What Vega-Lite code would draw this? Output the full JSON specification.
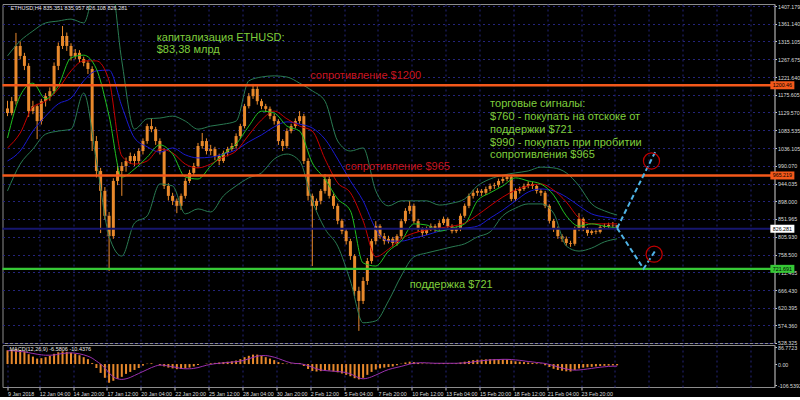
{
"$schema": "https://vega.github.io/schema/vega-lite/v6.json",
"background": "#000000",
"padding": {"left": 0.5, "top": 3, "right": 0, "bottom": 0},
"spacing": 2,
"bounds": "flush",
"config": {
  "view": {"stroke": "#8c8c8c", "strokeWidth": 1},
  "axis": {"labelFont": "Liberation Sans", "labelFontSize": 5.3, "labelColor": "#dcdcdc", "tickColor": "#c8c8c8", "domainColor": "#8c8c8c", "gridColor": "#24247a", "gridDash": [2, 3], "gridWidth": 1},
  "text": {"font": "Liberation Sans"}
},
"datasets": {
"candles": [
{"t":"2018-01-09T16:00","o":1140,"h":1160,"l":1120,"c":1128,"m":70,"s":68},
{"t":"2018-01-10T00:00","o":1128,"h":1170,"l":1122,"c":1159,"m":72,"s":68},
{"t":"2018-01-10T08:00","o":1159,"h":1337,"l":1150,"c":1303,"m":75,"s":66},
{"t":"2018-01-10T16:00","o":1303,"h":1315,"l":1268,"c":1277,"m":72,"s":64},
{"t":"2018-01-11T00:00","o":1277,"h":1285,"l":1240,"c":1251,"m":65,"s":62},
{"t":"2018-01-11T08:00","o":1251,"h":1258,"l":1118,"c":1133,"m":50,"s":58},
{"t":"2018-01-11T16:00","o":1133,"h":1160,"l":1125,"c":1146,"m":38,"s":54},
{"t":"2018-01-12T00:00","o":1146,"h":1152,"l":1060,"c":1107,"m":28,"s":50},
{"t":"2018-01-12T08:00","o":1107,"h":1165,"l":1098,"c":1159,"m":30,"s":47},
{"t":"2018-01-12T16:00","o":1159,"h":1180,"l":1145,"c":1172,"m":35,"s":45},
{"t":"2018-01-13T00:00","o":1172,"h":1195,"l":1160,"c":1185,"m":42,"s":45},
{"t":"2018-01-13T08:00","o":1185,"h":1260,"l":1178,"c":1251,"m":52,"s":46},
{"t":"2018-01-13T16:00","o":1251,"h":1312,"l":1240,"c":1303,"m":60,"s":50},
{"t":"2018-01-14T00:00","o":1303,"h":1355,"l":1295,"c":1329,"m":65,"s":54},
{"t":"2018-01-14T08:00","o":1329,"h":1338,"l":1290,"c":1303,"m":62,"s":56},
{"t":"2018-01-14T16:00","o":1303,"h":1310,"l":1265,"c":1277,"m":58,"s":57},
{"t":"2018-01-15T00:00","o":1277,"h":1295,"l":1268,"c":1285,"m":52,"s":55},
{"t":"2018-01-15T08:00","o":1285,"h":1292,"l":1260,"c":1269,"m":45,"s":52},
{"t":"2018-01-15T16:00","o":1269,"h":1275,"l":1250,"c":1259,"m":35,"s":47},
{"t":"2018-01-16T00:00","o":1259,"h":1265,"l":1230,"c":1243,"m":25,"s":40},
{"t":"2018-01-16T08:00","o":1243,"h":1250,"l":1029,"c":1055,"m":5,"s":30},
{"t":"2018-01-16T16:00","o":1055,"h":1068,"l":960,"c":977,"m":-20,"s":15},
{"t":"2018-01-17T00:00","o":977,"h":985,"l":815,"c":925,"m":-45,"s":0},
{"t":"2018-01-17T08:00","o":925,"h":935,"l":850,"c":860,"m":-70,"s":-20},
{"t":"2018-01-17T16:00","o":860,"h":870,"l":716,"c":807,"m":-95,"s":-45},
{"t":"2018-01-18T00:00","o":807,"h":958,"l":800,"c":951,"m":-85,"s":-65},
{"t":"2018-01-18T08:00","o":951,"h":990,"l":940,"c":977,"m":-75,"s":-75},
{"t":"2018-01-18T16:00","o":977,"h":1000,"l":912,"c":990,"m":-65,"s":-78},
{"t":"2018-01-19T00:00","o":990,"h":1012,"l":975,"c":1003,"m":-50,"s":-75},
{"t":"2018-01-19T08:00","o":1003,"h":1025,"l":995,"c":1016,"m":-40,"s":-68},
{"t":"2018-01-19T16:00","o":1016,"h":1022,"l":990,"c":1003,"m":-30,"s":-58},
{"t":"2018-01-20T00:00","o":1003,"h":1036,"l":995,"c":1029,"m":-20,"s":-48},
{"t":"2018-01-20T08:00","o":1029,"h":1062,"l":1020,"c":1055,"m":-8,"s":-38},
{"t":"2018-01-20T16:00","o":1055,"h":1100,"l":1048,"c":1094,"m":2,"s":-28},
{"t":"2018-01-21T00:00","o":1094,"h":1113,"l":1078,"c":1086,"m":4,"s":-18},
{"t":"2018-01-21T08:00","o":1086,"h":1092,"l":1045,"c":1055,"m":0,"s":-10},
{"t":"2018-01-21T16:00","o":1055,"h":1062,"l":1020,"c":1029,"m":-6,"s":-5},
{"t":"2018-01-22T00:00","o":1029,"h":1035,"l":930,"c":938,"m":-12,"s":-6},
{"t":"2018-01-22T08:00","o":938,"h":945,"l":900,"c":912,"m":-18,"s":-10},
{"t":"2018-01-22T16:00","o":912,"h":920,"l":888,"c":899,"m":-22,"s":-14},
{"t":"2018-01-23T00:00","o":899,"h":905,"l":867,"c":886,"m":-26,"s":-18},
{"t":"2018-01-23T08:00","o":886,"h":918,"l":875,"c":912,"m":-25,"s":-22},
{"t":"2018-01-23T16:00","o":912,"h":958,"l":905,"c":951,"m":-22,"s":-24},
{"t":"2018-01-24T00:00","o":951,"h":980,"l":945,"c":972,"m":-18,"s":-24},
{"t":"2018-01-24T08:00","o":972,"h":998,"l":965,"c":990,"m":-12,"s":-22},
{"t":"2018-01-24T16:00","o":990,"h":1050,"l":985,"c":1042,"m":-5,"s":-18},
{"t":"2018-01-25T00:00","o":1042,"h":1076,"l":1035,"c":1055,"m":0,"s":-12},
{"t":"2018-01-25T08:00","o":1055,"h":1062,"l":1020,"c":1029,"m":2,"s":-6},
{"t":"2018-01-25T16:00","o":1029,"h":1045,"l":1018,"c":1034,"m":4,"s":-2},
{"t":"2018-01-26T00:00","o":1034,"h":1040,"l":1005,"c":1016,"m":6,"s":2},
{"t":"2018-01-26T08:00","o":1016,"h":1022,"l":992,"c":1003,"m":8,"s":4},
{"t":"2018-01-26T16:00","o":1003,"h":1030,"l":998,"c":1024,"m":10,"s":6},
{"t":"2018-01-27T00:00","o":1024,"h":1040,"l":1015,"c":1034,"m":12,"s":8},
{"t":"2018-01-27T08:00","o":1034,"h":1050,"l":1028,"c":1042,"m":14,"s":10},
{"t":"2018-01-27T16:00","o":1042,"h":1075,"l":1035,"c":1068,"m":18,"s":12},
{"t":"2018-01-28T00:00","o":1068,"h":1100,"l":1060,"c":1094,"m":25,"s":15},
{"t":"2018-01-28T08:00","o":1094,"h":1152,"l":1088,"c":1146,"m":35,"s":20},
{"t":"2018-01-28T16:00","o":1146,"h":1180,"l":1140,"c":1172,"m":42,"s":27},
{"t":"2018-01-29T00:00","o":1172,"h":1204,"l":1165,"c":1191,"m":48,"s":34},
{"t":"2018-01-29T08:00","o":1191,"h":1198,"l":1150,"c":1159,"m":48,"s":40},
{"t":"2018-01-29T16:00","o":1159,"h":1165,"l":1138,"c":1146,"m":42,"s":43},
{"t":"2018-01-30T00:00","o":1146,"h":1152,"l":1130,"c":1139,"m":35,"s":43},
{"t":"2018-01-30T08:00","o":1139,"h":1145,"l":1112,"c":1120,"m":28,"s":40},
{"t":"2018-01-30T16:00","o":1120,"h":1126,"l":1098,"c":1107,"m":20,"s":35},
{"t":"2018-01-31T00:00","o":1107,"h":1112,"l":1045,"c":1055,"m":10,"s":28},
{"t":"2018-01-31T08:00","o":1055,"h":1060,"l":1029,"c":1042,"m":4,"s":20},
{"t":"2018-01-31T16:00","o":1042,"h":1088,"l":1036,"c":1081,"m":2,"s":12},
{"t":"2018-02-01T00:00","o":1081,"h":1100,"l":1075,"c":1094,"m":2,"s":6},
{"t":"2018-02-01T08:00","o":1094,"h":1114,"l":1088,"c":1107,"m":4,"s":3},
{"t":"2018-02-01T16:00","o":1107,"h":1133,"l":1100,"c":1120,"m":5,"s":2},
{"t":"2018-02-02T00:00","o":1120,"h":1126,"l":995,"c":1003,"m":-10,"s":-2},
{"t":"2018-02-02T08:00","o":1003,"h":1010,"l":900,"c":912,"m":-25,"s":-8},
{"t":"2018-02-02T16:00","o":912,"h":918,"l":729,"c":886,"m":-35,"s":-16},
{"t":"2018-02-03T00:00","o":886,"h":905,"l":875,"c":899,"m":-38,"s":-24},
{"t":"2018-02-03T08:00","o":899,"h":930,"l":890,"c":925,"m":-36,"s":-30},
{"t":"2018-02-03T16:00","o":925,"h":969,"l":918,"c":956,"m":-32,"s":-33},
{"t":"2018-02-04T00:00","o":956,"h":962,"l":905,"c":912,"m":-33,"s":-35},
{"t":"2018-02-04T08:00","o":912,"h":918,"l":878,"c":886,"m":-38,"s":-36},
{"t":"2018-02-04T16:00","o":886,"h":892,"l":838,"c":847,"m":-42,"s":-38},
{"t":"2018-02-05T00:00","o":847,"h":852,"l":812,"c":820,"m":-48,"s":-40},
{"t":"2018-02-05T08:00","o":820,"h":826,"l":785,"c":794,"m":-55,"s":-44},
{"t":"2018-02-05T16:00","o":794,"h":800,"l":745,"c":755,"m":-62,"s":-50},
{"t":"2018-02-06T00:00","o":755,"h":760,"l":650,"c":664,"m":-72,"s":-60},
{"t":"2018-02-06T08:00","o":664,"h":675,"l":560,"c":638,"m":-78,"s":-70},
{"t":"2018-02-06T16:00","o":638,"h":700,"l":630,"c":690,"m":-70,"s":-75},
{"t":"2018-02-07T00:00","o":690,"h":750,"l":680,"c":742,"m":-55,"s":-72},
{"t":"2018-02-07T08:00","o":742,"h":800,"l":735,"c":794,"m":-40,"s":-65},
{"t":"2018-02-07T16:00","o":794,"h":846,"l":785,"c":833,"m":-28,"s":-56},
{"t":"2018-02-08T00:00","o":833,"h":838,"l":800,"c":807,"m":-22,"s":-46},
{"t":"2018-02-08T08:00","o":807,"h":815,"l":785,"c":794,"m":-18,"s":-36},
{"t":"2018-02-08T16:00","o":794,"h":808,"l":788,"c":800,"m":-15,"s":-28},
{"t":"2018-02-09T00:00","o":800,"h":805,"l":780,"c":789,"m":-12,"s":-22},
{"t":"2018-02-09T08:00","o":789,"h":812,"l":782,"c":807,"m":-6,"s":-17},
{"t":"2018-02-09T16:00","o":807,"h":852,"l":800,"c":846,"m":2,"s":-12},
{"t":"2018-02-10T00:00","o":846,"h":880,"l":840,"c":873,"m":8,"s":-6},
{"t":"2018-02-10T08:00","o":873,"h":899,"l":865,"c":886,"m":12,"s":0},
{"t":"2018-02-10T16:00","o":886,"h":892,"l":840,"c":846,"m":10,"s":4},
{"t":"2018-02-11T00:00","o":846,"h":852,"l":818,"c":826,"m":6,"s":6},
{"t":"2018-02-11T08:00","o":826,"h":830,"l":805,"c":815,"m":3,"s":7},
{"t":"2018-02-11T16:00","o":815,"h":832,"l":810,"c":826,"m":2,"s":6},
{"t":"2018-02-12T00:00","o":826,"h":840,"l":820,"c":833,"m":2,"s":5},
{"t":"2018-02-12T08:00","o":833,"h":838,"l":818,"c":826,"m":3,"s":4},
{"t":"2018-02-12T16:00","o":826,"h":848,"l":820,"c":841,"m":4,"s":4},
{"t":"2018-02-13T00:00","o":841,"h":858,"l":836,"c":852,"m":5,"s":4},
{"t":"2018-02-13T08:00","o":852,"h":856,"l":826,"c":833,"m":4,"s":4},
{"t":"2018-02-13T16:00","o":833,"h":838,"l":814,"c":820,"m":3,"s":4},
{"t":"2018-02-14T00:00","o":820,"h":832,"l":815,"c":826,"m":4,"s":4},
{"t":"2018-02-14T08:00","o":826,"h":866,"l":820,"c":860,"m":8,"s":5},
{"t":"2018-02-14T16:00","o":860,"h":892,"l":855,"c":886,"m":12,"s":6},
{"t":"2018-02-15T00:00","o":886,"h":918,"l":880,"c":912,"m":16,"s":8},
{"t":"2018-02-15T08:00","o":912,"h":928,"l":905,"c":920,"m":20,"s":11},
{"t":"2018-02-15T16:00","o":920,"h":932,"l":912,"c":925,"m":22,"s":14},
{"t":"2018-02-16T00:00","o":925,"h":930,"l":912,"c":920,"m":23,"s":17},
{"t":"2018-02-16T08:00","o":920,"h":936,"l":914,"c":930,"m":24,"s":19},
{"t":"2018-02-16T16:00","o":930,"h":944,"l":924,"c":938,"m":25,"s":21},
{"t":"2018-02-17T00:00","o":938,"h":946,"l":930,"c":940,"m":25,"s":22},
{"t":"2018-02-17T08:00","o":940,"h":957,"l":934,"c":951,"m":24,"s":23},
{"t":"2018-02-17T16:00","o":951,"h":962,"l":945,"c":956,"m":24,"s":24},
{"t":"2018-02-18T00:00","o":956,"h":969,"l":950,"c":961,"m":23,"s":24},
{"t":"2018-02-18T08:00","o":961,"h":965,"l":898,"c":904,"m":18,"s":23},
{"t":"2018-02-18T16:00","o":904,"h":932,"l":898,"c":925,"m":14,"s":21},
{"t":"2018-02-19T00:00","o":925,"h":936,"l":918,"c":930,"m":12,"s":19},
{"t":"2018-02-19T08:00","o":930,"h":944,"l":925,"c":938,"m":10,"s":16},
{"t":"2018-02-19T16:00","o":938,"h":950,"l":932,"c":943,"m":8,"s":13},
{"t":"2018-02-20T00:00","o":943,"h":948,"l":930,"c":938,"m":6,"s":11},
{"t":"2018-02-20T08:00","o":938,"h":942,"l":918,"c":925,"m":4,"s":8},
{"t":"2018-02-20T16:00","o":925,"h":930,"l":912,"c":920,"m":2,"s":6},
{"t":"2018-02-21T00:00","o":920,"h":925,"l":880,"c":886,"m":-6,"s":3},
{"t":"2018-02-21T08:00","o":886,"h":890,"l":840,"c":847,"m":-15,"s":-2},
{"t":"2018-02-21T16:00","o":847,"h":852,"l":818,"c":826,"m":-24,"s":-8},
{"t":"2018-02-22T00:00","o":826,"h":832,"l":800,"c":807,"m":-30,"s":-14},
{"t":"2018-02-22T08:00","o":807,"h":812,"l":792,"c":800,"m":-34,"s":-20},
{"t":"2018-02-22T16:00","o":800,"h":806,"l":782,"c":789,"m":-37,"s":-25},
{"t":"2018-02-23T00:00","o":789,"h":795,"l":779,"c":787,"m":-38,"s":-29},
{"t":"2018-02-23T08:00","o":787,"h":832,"l":782,"c":826,"m":-30,"s":-31},
{"t":"2018-02-23T16:00","o":826,"h":867,"l":820,"c":852,"m":-22,"s":-30},
{"t":"2018-02-24T00:00","o":852,"h":856,"l":820,"c":826,"m":-18,"s":-28},
{"t":"2018-02-24T08:00","o":826,"h":830,"l":808,"c":815,"m":-16,"s":-25},
{"t":"2018-02-24T16:00","o":815,"h":826,"l":810,"c":820,"m":-14,"s":-22},
{"t":"2018-02-25T00:00","o":820,"h":828,"l":812,"c":818,"m":-12,"s":-19},
{"t":"2018-02-25T08:00","o":818,"h":836,"l":814,"c":831,"m":-10,"s":-16},
{"t":"2018-02-25T16:00","o":831,"h":840,"l":826,"c":833,"m":-9,"s":-14},
{"t":"2018-02-26T00:00","o":833,"h":842,"l":828,"c":836,"m":-8,"s":-12},
{"t":"2018-02-26T08:00","o":836,"h":844,"l":828,"c":835.35,"m":-7,"s":-11},
{"t":"2018-02-26T16:00","o":835.35,"h":835.96,"l":826.11,"c":826.28,"m":-6.58,"s":-10.44}
],
"ind": [
{"t":"2018-01-09T16:00","g":1063,"r":1037,"b":1003,"u":1277,"d":925},
{"t":"2018-01-10T16:00","g":1173,"r":1076,"b":1029,"u":1316,"d":995},
{"t":"2018-01-11T16:00","g":1206,"r":1144,"b":1081,"u":1342,"d":1034},
{"t":"2018-01-12T16:00","g":1165,"r":1159,"b":1120,"u":1363,"d":1073},
{"t":"2018-01-13T16:00","g":1199,"r":1191,"b":1152,"u":1368,"d":1081},
{"t":"2018-01-14T16:00","g":1272,"r":1238,"b":1167,"u":1373,"d":1086},
{"t":"2018-01-15T16:00","g":1279,"r":1264,"b":1212,"u":1363,"d":1180},
{"t":"2018-01-16T16:00","g":1243,"r":1264,"b":1238,"u":1472,"d":1003},
{"t":"2018-01-17T16:00","g":1120,"r":1212,"b":1240,"u":1499,"d":807},
{"t":"2018-01-18T16:00","g":961,"r":1016,"b":1146,"u":1264,"d":755},
{"t":"2018-01-19T16:00","g":982,"r":995,"b":1063,"u":1086,"d":841},
{"t":"2018-01-20T16:00","g":1013,"r":1003,"b":1040,"u":1113,"d":860},
{"t":"2018-01-21T16:00","g":1045,"r":1034,"b":1026,"u":1115,"d":943},
{"t":"2018-01-22T16:00","g":1021,"r":1024,"b":1037,"u":1120,"d":938},
{"t":"2018-01-23T16:00","g":961,"r":995,"b":1019,"u":1107,"d":865},
{"t":"2018-01-24T16:00","g":956,"r":985,"b":1011,"u":1086,"d":878},
{"t":"2018-01-25T16:00","g":990,"r":995,"b":1013,"u":1094,"d":870},
{"t":"2018-01-26T16:00","g":1021,"r":1013,"b":1021,"u":1099,"d":912},
{"t":"2018-01-27T16:00","g":1047,"r":1029,"b":1032,"u":1107,"d":938},
{"t":"2018-01-28T16:00","g":1094,"r":1071,"b":1053,"u":1212,"d":959},
{"t":"2018-01-29T16:00","g":1133,"r":1110,"b":1071,"u":1222,"d":972},
{"t":"2018-01-30T16:00","g":1128,"r":1133,"b":1092,"u":1225,"d":1008},
{"t":"2018-01-31T16:00","g":1094,"r":1113,"b":1105,"u":1222,"d":1021},
{"t":"2018-02-01T16:00","g":1081,"r":1094,"b":1099,"u":1206,"d":1003},
{"t":"2018-02-02T16:00","g":998,"r":1081,"b":1089,"u":1186,"d":899},
{"t":"2018-02-03T16:00","g":956,"r":1008,"b":1060,"u":1159,"d":826},
{"t":"2018-02-04T16:00","g":904,"r":946,"b":1008,"u":1055,"d":781},
{"t":"2018-02-05T16:00","g":873,"r":920,"b":951,"u":1029,"d":690},
{"t":"2018-02-06T16:00","g":737,"r":847,"b":899,"u":1037,"d":581},
{"t":"2018-02-07T16:00","g":729,"r":753,"b":826,"u":925,"d":586},
{"t":"2018-02-08T16:00","g":768,"r":773,"b":794,"u":886,"d":638},
{"t":"2018-02-09T16:00","g":794,"r":800,"b":794,"u":899,"d":703},
{"t":"2018-02-10T16:00","g":839,"r":815,"b":802,"u":899,"d":753},
{"t":"2018-02-11T16:00","g":836,"r":823,"b":810,"u":899,"d":763},
{"t":"2018-02-12T16:00","g":820,"r":828,"b":820,"u":888,"d":771},
{"t":"2018-02-13T16:00","g":828,"r":833,"b":826,"u":893,"d":779},
{"t":"2018-02-14T16:00","g":839,"r":841,"b":828,"u":904,"d":787},
{"t":"2018-02-15T16:00","g":899,"r":862,"b":833,"u":938,"d":805},
{"t":"2018-02-16T16:00","g":920,"r":886,"b":854,"u":956,"d":818},
{"t":"2018-02-17T16:00","g":938,"r":909,"b":875,"u":966,"d":860},
{"t":"2018-02-18T16:00","g":959,"r":927,"b":899,"u":972,"d":880},
{"t":"2018-02-19T16:00","g":951,"r":938,"b":922,"u":977,"d":891},
{"t":"2018-02-20T16:00","g":943,"r":943,"b":930,"u":987,"d":891},
{"t":"2018-02-21T16:00","g":914,"r":927,"b":925,"u":985,"d":867},
{"t":"2018-02-22T16:00","g":860,"r":896,"b":909,"u":972,"d":781},
{"t":"2018-02-23T16:00","g":833,"r":854,"b":886,"u":938,"d":768},
{"t":"2018-02-24T16:00","g":839,"r":839,"b":865,"u":891,"d":776},
{"t":"2018-02-25T16:00","g":833,"r":839,"b":857,"u":873,"d":792},
{"t":"2018-02-26T16:00","g":828,"r":839,"b":852,"u":862,"d":800}
],
"levels": [
{"p":1200.46,"lab":"1200.46","k":"res"},
{"p":965.219,"lab":"965.219","k":"res"},
{"p":826.281,"lab":"826.281","k":"bid"},
{"p":721.691,"lab":"721.691","k":"sup"}
],
"notes": [
{"t":"2018-01-21T10:00","p":1323.7,"txt":"капитализация ETHUSD:","k":"g"},
{"t":"2018-01-21T10:00","p":1292.4,"txt":"$83,38 млрд","k":"g"},
{"t":"2018-02-02T12:00","p":1224.6,"txt":"сопротивление $1200","k":"r"},
{"t":"2018-02-05T06:00","p":987.3,"txt":"сопротивление $965","k":"r"},
{"t":"2018-02-10T08:00","p":679.5,"txt":"поддержка $721","k":"g"},
{"t":"2018-02-16T16:00","p":1151.6,"txt":"торговые сигналы:","k":"g"},
{"t":"2018-02-16T16:00","p":1117.7,"txt":"$760 - покупать на отскоке от","k":"g"},
{"t":"2018-02-16T16:00","p":1083.8,"txt":"поддержки $721","k":"g"},
{"t":"2018-02-16T16:00","p":1049.9,"txt":"$990 - покупать при пробитии","k":"g"},
{"t":"2018-02-16T16:00","p":1018.6,"txt":"сопротивления $965","k":"g"}
],
"arrows": [
{"t":"2018-02-26T16:00","p":828,"g":"a"},
{"t":"2018-03-01T18:00","p":1032,"g":"a"},
{"t":"2018-02-26T16:00","p":828,"g":"b"},
{"t":"2018-02-28T18:00","p":722,"g":"b"},
{"t":"2018-03-01T18:00","p":773,"g":"b"}
],
"circles": [
{"t":"2018-03-01T09:00","p":1003},
{"t":"2018-03-01T14:00","p":760}
]
},
"vconcat": [
{
"width": 772,
"height": 339,
"resolve": {"axis": {"x": "independent", "y": "independent"}},
"layer": [
{"data": {"name": "candles"}, "mark": {"type": "rule", "color": "#e8892c", "strokeWidth": 1},
 "encoding": {
  "x": {"field": "t", "type": "temporal",
   "scale": {"domain": [{"year":2018,"month":1,"date":9,"hours":16},{"year":2018,"month":3,"date":10,"hours":16}]},
   "axis": {"title": null, "orient": "bottom", "labels": false, "ticks": false, "domain": false, "grid": true,
    "values": [{"year":2018,"month":1,"date":12,"hours":4},{"year":2018,"month":1,"date":14,"hours":20},{"year":2018,"month":1,"date":17,"hours":12},{"year":2018,"month":1,"date":20,"hours":4},{"year":2018,"month":1,"date":22,"hours":20},{"year":2018,"month":1,"date":25,"hours":12},{"year":2018,"month":1,"date":28,"hours":4},{"year":2018,"month":1,"date":30,"hours":20},{"year":2018,"month":2,"date":2,"hours":12},{"year":2018,"month":2,"date":5,"hours":4},{"year":2018,"month":2,"date":7,"hours":20},{"year":2018,"month":2,"date":10,"hours":12},{"year":2018,"month":2,"date":13,"hours":4},{"year":2018,"month":2,"date":15,"hours":20},{"year":2018,"month":2,"date":18,"hours":12},{"year":2018,"month":2,"date":21,"hours":4},{"year":2018,"month":2,"date":23,"hours":20},{"year":2018,"month":2,"date":26,"hours":12},{"year":2018,"month":3,"date":1,"hours":4},{"year":2018,"month":3,"date":3,"hours":20},{"year":2018,"month":3,"date":6,"hours":12},{"year":2018,"month":3,"date":9,"hours":4}]}},
  "y": {"field": "l", "type": "quantitative",
   "scale": {"domain": [528.3, 1412.4], "nice": false, "zero": false},
   "axis": {"title": null, "orient": "right", "grid": true, "domain": true, "ticks": true, "tickSize": 2, "labelAlign": "left", "labelPadding": 1,
    "values": [1407.179,1361.14,1315.105,1267.675,1221.64,1175.605,1129.57,1083.535,1036.105,990.07,944.035,898,851.965,805.93,758.5,712.465,666.43,620.395,574.36,528.325],
    "labelExpr": "format(datum.value, '.3f')", "labelOverlap": false}},
  "y2": {"field": "h"}
 }},
{"data": {"name": "candles"}, "mark": {"type": "bar", "color": "#e8892c", "size": 3},
 "encoding": {"x": {"field": "t", "type": "temporal", "axis": null}, "y": {"field": "o", "type": "quantitative", "axis": null}, "y2": {"field": "c"}}},
{"data": {"name": "ind"}, "mark": {"type": "line", "color": "#2a7a52", "strokeWidth": 1, "clip": true, "interpolate": "monotone"},
 "encoding": {"x": {"field": "t", "type": "temporal", "axis": null}, "y": {"field": "u", "type": "quantitative", "axis": null}}},
{"data": {"name": "ind"}, "mark": {"type": "line", "color": "#2a7a52", "strokeWidth": 1, "clip": true, "interpolate": "monotone"},
 "encoding": {"x": {"field": "t", "type": "temporal", "axis": null}, "y": {"field": "d", "type": "quantitative", "axis": null}}},
{"data": {"name": "ind"}, "mark": {"type": "line", "color": "#1a1ad0", "strokeWidth": 1, "clip": true, "interpolate": "monotone"},
 "encoding": {"x": {"field": "t", "type": "temporal", "axis": null}, "y": {"field": "b", "type": "quantitative", "axis": null}}},
{"data": {"name": "ind"}, "mark": {"type": "line", "color": "#c80000", "strokeWidth": 1, "clip": true, "interpolate": "monotone"},
 "encoding": {"x": {"field": "t", "type": "temporal", "axis": null}, "y": {"field": "r", "type": "quantitative", "axis": null}}},
{"data": {"name": "ind"}, "mark": {"type": "line", "color": "#20c020", "strokeWidth": 1, "clip": true, "interpolate": "monotone"},
 "encoding": {"x": {"field": "t", "type": "temporal", "axis": null}, "y": {"field": "g", "type": "quantitative", "axis": null}}},
{"data": {"name": "levels"}, "mark": {"type": "rule"},
 "encoding": {"y": {"field": "p", "type": "quantitative", "axis": null},
  "stroke": {"field": "k", "type": "nominal", "scale": {"domain": ["res","sup","bid"], "range": ["#f4581a","#36c836","#16166e"]}, "legend": null},
  "strokeWidth": {"field": "k", "type": "nominal", "scale": {"domain": ["res","sup","bid"], "range": [2.5,2,1]}, "legend": null}}},
{"data": {"name": "notes"}, "mark": {"type": "text", "align": "left", "baseline": "middle", "fontSize": 11},
 "encoding": {"x": {"field": "t", "type": "temporal", "axis": null}, "y": {"field": "p", "type": "quantitative", "axis": null},
  "text": {"field": "txt"},
  "color": {"field": "k", "type": "nominal", "scale": {"domain": ["g","r"], "range": ["#7fce3c","#c8141e"]}, "legend": null}}},
{"data": {"name": "arrows"}, "mark": {"type": "line", "color": "#4fb4e6", "strokeWidth": 2, "strokeDash": [5,3]},
 "encoding": {"x": {"field": "t", "type": "temporal", "axis": null}, "y": {"field": "p", "type": "quantitative", "axis": null}, "detail": {"field": "g"}}},
{"data": {"name": "circles"}, "mark": {"type": "point", "shape": "circle", "filled": false, "color": "#c00000", "strokeWidth": 1.2, "size": 260, "opacity": 1},
 "encoding": {"x": {"field": "t", "type": "temporal", "axis": null}, "y": {"field": "p", "type": "quantitative", "axis": null}}},
{"data": {"name": "levels"}, "mark": {"type": "tick", "orient": "horizontal", "size": 24, "thickness": 8, "opacity": 1},
 "encoding": {"x": {"datum": {"year":2018,"month":3,"date":11,"hours":16,"minutes":20}, "type": "temporal", "axis": null}, "y": {"field": "p", "type": "quantitative", "axis": null},
  "fill": {"field": "k", "type": "nominal", "scale": {"domain": ["res","sup","bid"], "range": ["#f4581a","#36c836","#ffffff"]}, "legend": null}}},
{"data": {"name": "levels"}, "mark": {"type": "text", "align": "center", "baseline": "middle", "fontSize": 5.3, "color": "#000000"},
 "encoding": {"x": {"datum": {"year":2018,"month":3,"date":11,"hours":16,"minutes":20}, "type": "temporal", "axis": null}, "y": {"field": "p", "type": "quantitative", "axis": null}, "text": {"field": "lab"}}},
{"data": {"values": [{"txt": "ETHUSD,H4  835.351 835.957 826.108 826.281"}]}, "mark": {"type": "text", "align": "left", "baseline": "middle", "fontSize": 5.5, "color": "#e6e6e6", "dx": 3},
 "encoding": {"x": {"datum": {"year":2018,"month":1,"date":9,"hours":16}, "type": "temporal", "axis": null}, "y": {"datum": 1402, "type": "quantitative", "axis": null}, "text": {"field": "txt"}}}
]
},
{
"width": 772,
"height": 42,
"resolve": {"axis": {"x": "independent", "y": "independent"}},
"layer": [
{"data": {"name": "candles"}, "mark": {"type": "bar", "color": "#e8892c", "size": 2},
 "encoding": {
  "x": {"field": "t", "type": "temporal",
   "scale": {"domain": [{"year":2018,"month":1,"date":9,"hours":16},{"year":2018,"month":3,"date":10,"hours":16}]},
   "axis": {"title": null, "orient": "bottom", "grid": true, "domain": false, "ticks": true, "tickSize": 3,
    "labelAlign": "left", "labelBaseline": "top", "labelPadding": 1, "labelOverlap": false, "labelFlush": false,
    "tickOpacity": {"condition": {"test": "datum.value > datetime(2018,1,24)", "value": 0}, "value": 1},
    "labelExpr": "timeFormat(datum.value, '%m%d%H') == '010916' ? '9 Jan 2018' : (datum.value > datetime(2018,1,24) ? '' : timeFormat(datum.value, '%-d %b %H:%M'))",
    "values": [{"year":2018,"month":1,"date":9,"hours":16},{"year":2018,"month":1,"date":12,"hours":4},{"year":2018,"month":1,"date":14,"hours":20},{"year":2018,"month":1,"date":17,"hours":12},{"year":2018,"month":1,"date":20,"hours":4},{"year":2018,"month":1,"date":22,"hours":20},{"year":2018,"month":1,"date":25,"hours":12},{"year":2018,"month":1,"date":28,"hours":4},{"year":2018,"month":1,"date":30,"hours":20},{"year":2018,"month":2,"date":2,"hours":12},{"year":2018,"month":2,"date":5,"hours":4},{"year":2018,"month":2,"date":7,"hours":20},{"year":2018,"month":2,"date":10,"hours":12},{"year":2018,"month":2,"date":13,"hours":4},{"year":2018,"month":2,"date":15,"hours":20},{"year":2018,"month":2,"date":18,"hours":12},{"year":2018,"month":2,"date":21,"hours":4},{"year":2018,"month":2,"date":23,"hours":20},{"year":2018,"month":2,"date":26,"hours":12},{"year":2018,"month":3,"date":1,"hours":4},{"year":2018,"month":3,"date":3,"hours":20},{"year":2018,"month":3,"date":6,"hours":12},{"year":2018,"month":3,"date":9,"hours":4}]}},
  "y": {"field": "m", "type": "quantitative",
   "scale": {"domain": [-116.71, 96.95], "nice": false, "zero": false},
   "axis": {"title": null, "orient": "right", "grid": false, "domain": true, "ticks": true, "tickSize": 2, "labelAlign": "left", "labelPadding": 1,
    "values": [86.7723, 0, -106.5392], "labelOverlap": false,
    "labelExpr": "datum.value == 0 ? '0.00' : (datum.value < 0 ? '-106.5392' : '86.7723')"}},
  "y2": {"datum": 0}
 }},
{"data": {"name": "candles"}, "mark": {"type": "line", "color": "#9b30b0", "strokeWidth": 1, "interpolate": "monotone"},
 "encoding": {"x": {"field": "t", "type": "temporal", "axis": null}, "y": {"field": "s", "type": "quantitative", "axis": null}}},
{"data": {"values": [{"txt": "MACD(12,26,9) -6.5806 -10.4376"}]}, "mark": {"type": "text", "align": "left", "baseline": "middle", "fontSize": 5.5, "color": "#e6e6e6", "dx": 2},
 "encoding": {"x": {"datum": {"year":2018,"month":1,"date":9,"hours":16}, "type": "temporal", "axis": null}, "y": {"datum": 76.6, "type": "quantitative", "axis": null}, "text": {"field": "txt"}}}
]
}
]
}
